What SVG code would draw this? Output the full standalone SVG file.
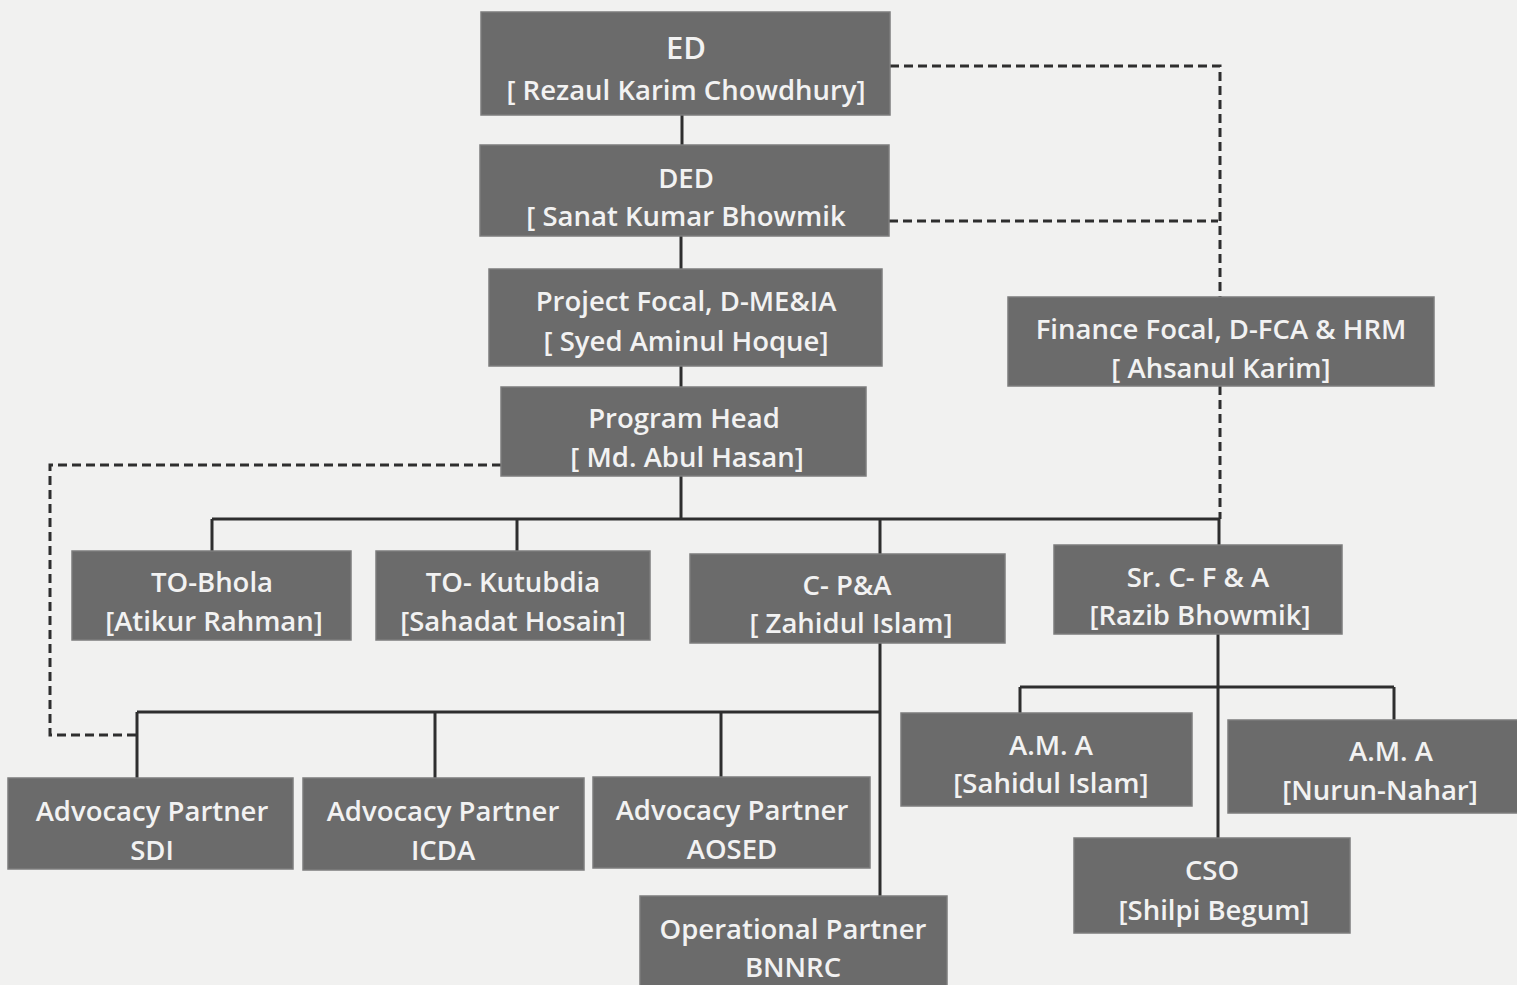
<svg xmlns="http://www.w3.org/2000/svg" width="1517" height="985" viewBox="0 0 1517 985">
<style>
.bg{fill:#f1f1f0}
.box{fill:#6b6b6b;stroke:#7c7c7c;stroke-width:1.5}
.t{font-family:"Open Sans",Lato,sans-serif;font-size:27.5px;font-weight:600;fill:#f2f2f2;text-anchor:middle;dominant-baseline:central}
.big{font-size:31px}
.ln{stroke:#2e2e2e;stroke-width:3;fill:none}
.ds{stroke:#2e2e2e;stroke-width:3;fill:none;stroke-dasharray:9 5}
</style>
<rect class="bg" x="0" y="0" width="1517" height="985"/>
<g id="connectors">
<path class="ln" d="M682 115V145M681 236V269M681 366V387M681 476V519M212 519H1219M212 519V551M517 519V551M880 519V554M1219 519V545"/>
<path class="ln" d="M880 643V896M137 712H880M137 712V778M435 712V778M721 712V777"/>
<path class="ln" d="M1218 634V838M1020 687H1394M1020 687V713M1394 687V720"/>
<path class="ds" d="M890 66H1220V297M889 221H1218M1220 386V519"/>
<path class="ds" d="M501 465H50V735H137"/>
</g>
<g id="ed"><rect class="box" x="481" y="12" width="409" height="103"/><text class="t big" x="686" y="47">ED</text><text class="t" x="686" y="89">[ Rezaul Karim Chowdhury]</text></g>
<g id="ded"><rect class="box" x="480" y="145" width="409" height="91"/><text class="t" x="686" y="177">DED</text><text class="t" x="686" y="215">[ Sanat Kumar Bhowmik</text></g>
<g id="project-focal"><rect class="box" x="489" y="269" width="393" height="97"/><text class="t" x="686" y="300">Project Focal, D-ME&amp;IA</text><text class="t" x="686" y="340">[ Syed Aminul Hoque]</text></g>
<g id="program-head"><rect class="box" x="501" y="387" width="365" height="89"/><text class="t" x="684" y="417">Program Head</text><text class="t" x="687" y="456">[ Md. Abul Hasan]</text></g>
<g id="finance-focal"><rect class="box" x="1008" y="297" width="426" height="89"/><text class="t" x="1221" y="328">Finance Focal, D-FCA &amp; HRM</text><text class="t" x="1221" y="367">[ Ahsanul Karim]</text></g>
<g id="to-bhola"><rect class="box" x="72" y="551" width="279" height="89"/><text class="t" x="212" y="581">TO-Bhola</text><text class="t" x="214" y="620">[Atikur Rahman]</text></g>
<g id="to-kutubdia"><rect class="box" x="376" y="551" width="274" height="89"/><text class="t" x="513" y="581">TO- Kutubdia</text><text class="t" x="513" y="620">[Sahadat Hosain]</text></g>
<g id="c-pa"><rect class="box" x="690" y="554" width="315" height="89"/><text class="t" x="847" y="584">C- P&amp;A</text><text class="t" x="851" y="622">[ Zahidul Islam]</text></g>
<g id="sr-c-fa"><rect class="box" x="1054" y="545" width="288" height="89"/><text class="t" x="1198" y="576">Sr. C- F &amp; A</text><text class="t" x="1200" y="614">[Razib Bhowmik]</text></g>
<g id="adv-sdi"><rect class="box" x="8" y="778" width="285" height="91"/><text class="t" x="152" y="810">Advocacy Partner</text><text class="t" x="152" y="849">SDI</text></g>
<g id="adv-icda"><rect class="box" x="303" y="778" width="281" height="92"/><text class="t" x="443" y="810">Advocacy Partner</text><text class="t" x="443" y="849">ICDA</text></g>
<g id="adv-aosed"><rect class="box" x="593" y="777" width="277" height="91"/><text class="t" x="732" y="809">Advocacy Partner</text><text class="t" x="732" y="848">AOSED</text></g>
<g id="op-bnnrc"><rect class="box" x="640" y="896" width="307" height="95"/><text class="t" x="793" y="928">Operational Partner</text><text class="t" x="793" y="966">BNNRC</text></g>
<g id="ama-sahidul"><rect class="box" x="901" y="713" width="291" height="93"/><text class="t" x="1051" y="744">A.M. A</text><text class="t" x="1051" y="782">[Sahidul Islam]</text></g>
<g id="ama-nurun"><rect class="box" x="1228" y="720" width="295" height="93"/><text class="t" x="1391" y="750">A.M. A</text><text class="t" x="1380" y="789">[Nurun-Nahar]</text></g>
<g id="cso"><rect class="box" x="1074" y="838" width="276" height="95"/><text class="t" x="1212" y="869">CSO</text><text class="t" x="1214" y="909">[Shilpi Begum]</text></g>
</svg>
